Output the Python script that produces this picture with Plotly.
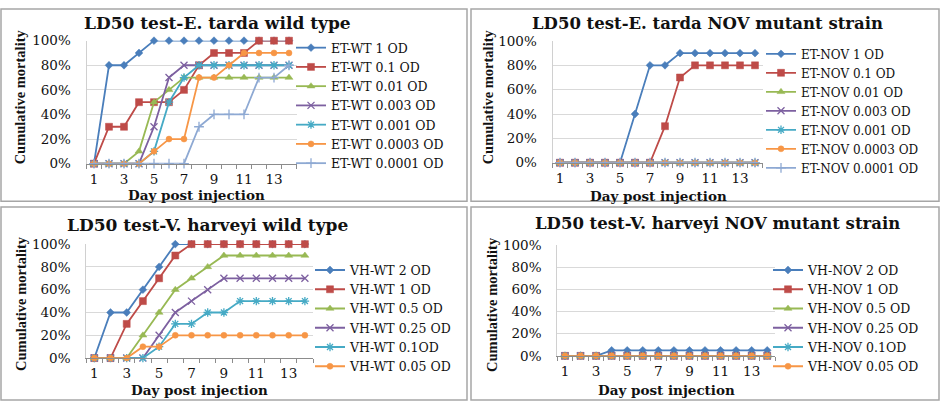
import plotly.graph_objects as go

# ---------------- data ----------------
days = list(range(1, 15))
day_ticks = [1, 3, 5, 7, 9, 11, 13]
pct_ticks = [0, 20, 40, 60, 80, 100]

# Panel 1: E. tarda wild type
et_wt_names = ["ET-WT 1 OD", "ET-WT 0.1 OD", "ET-WT 0.01 OD", "ET-WT 0.003 OD",
               "ET-WT 0.001 OD", "ET-WT 0.0003 OD", "ET-WT 0.0001 OD"]
et_wt_1 = [0, 80, 80, 90, 100, 100, 100, 100, 100, 100, 100, 100, 100, 100]
et_wt_01 = [0, 30, 30, 50, 50, 50, 60, 80, 90, 90, 90, 100, 100, 100]
et_wt_001 = [0, 0, 0, 10, 50, 60, 70, 70, 70, 70, 70, 70, 70, 70]
et_wt_0003 = [0, 0, 0, 0, 30, 70, 80, 80, 80, 80, 80, 80, 80, 80]
et_wt_0001 = [0, 0, 0, 0, 10, 50, 70, 80, 80, 80, 80, 80, 80, 80]
et_wt_00003 = [0, 0, 0, 0, 10, 20, 20, 70, 70, 80, 90, 90, 90, 90]
et_wt_00001 = [0, 0, 0, 0, 0, 0, 0, 30, 40, 40, 40, 70, 70, 80]

# Panel 2: E. tarda NOV mutant strain
et_nov_names = ["ET-NOV 1 OD", "ET-NOV 0.1 OD", "ET-NOV 0.01 OD", "ET-NOV 0.003 OD",
                "ET-NOV 0.001 OD", "ET-NOV 0.0003 OD", "ET-NOV 0.0001 OD"]
et_nov_1 = [0, 0, 0, 0, 0, 40, 80, 80, 90, 90, 90, 90, 90, 90]
et_nov_01 = [0, 0, 0, 0, 0, 0, 0, 30, 70, 80, 80, 80, 80, 80]
et_nov_001 = [0, 0, 0, 0, 0, 0, 0, 0, 0, 0, 0, 0, 0, 0]
et_nov_0003 = [0, 0, 0, 0, 0, 0, 0, 0, 0, 0, 0, 0, 0, 0]
et_nov_0001 = [0, 0, 0, 0, 0, 0, 0, 0, 0, 0, 0, 0, 0, 0]
et_nov_00003 = [0, 0, 0, 0, 0, 0, 0, 0, 0, 0, 0, 0, 0, 0]
et_nov_00001 = [0, 0, 0, 0, 0, 0, 0, 0, 0, 0, 0, 0, 0, 0]

# Panel 3: V. harveyi wild type
vh_wt_names = ["VH-WT 2 OD", "VH-WT 1 OD", "VH-WT 0.5 OD", "VH-WT 0.25 OD",
               "VH-WT 0.1OD", "VH-WT 0.05 OD"]
vh_wt_2 = [0, 40, 40, 60, 80, 100, 100, 100, 100, 100, 100, 100, 100, 100]
vh_wt_1 = [0, 0, 30, 50, 70, 90, 100, 100, 100, 100, 100, 100, 100, 100]
vh_wt_05 = [0, 0, 0, 20, 40, 60, 70, 80, 90, 90, 90, 90, 90, 90]
vh_wt_025 = [0, 0, 0, 0, 20, 40, 50, 60, 70, 70, 70, 70, 70, 70]
vh_wt_01 = [0, 0, 0, 0, 10, 30, 30, 40, 40, 50, 50, 50, 50, 50]
vh_wt_005 = [0, 0, 0, 10, 10, 20, 20, 20, 20, 20, 20, 20, 20, 20]

# Panel 4: V. harveyi NOV mutant strain
vh_nov_names = ["VH-NOV 2 OD", "VH-NOV 1 OD", "VH-NOV 0.5 OD", "VH-NOV 0.25 OD",
                "VH-NOV 0.1OD", "VH-NOV 0.05 OD"]
vh_nov_2 = [0, 0, 0, 5, 5, 5, 5, 5, 5, 5, 5, 5, 5, 5]
vh_nov_1 = [0, 0, 0, 0, 0, 0, 0, 0, 0, 0, 0, 0, 0, 0]
vh_nov_05 = [0, 0, 0, 0, 0, 0, 0, 0, 0, 0, 0, 0, 0, 0]
vh_nov_025 = [0, 0, 0, 0, 0, 0, 0, 0, 0, 0, 0, 0, 0, 0]
vh_nov_01 = [0, 0, 0, 0, 0, 0, 0, 0, 0, 0, 0, 0, 0, 0]
vh_nov_005 = [0, 0, 0, 0, 0, 0, 0, 0, 0, 0, 0, 0, 0, 0]

titles = ["LD50 test-E. tarda wild type", "LD50 test-E. tarda NOV mutant strain",
          "LD50 test-V. harveyi wild type", "LD50 test-V. harveyi NOV mutant strain"]
y_title = "Cumulative mortality"
x_title = "Day post injection"

# ---------------- styles ----------------
colors = ["#4A7EBB", "#BE4B48", "#98B954", "#7D60A0", "#46AAC5", "#F79646", "#8EA9D3"]
symbols = ["diamond", "square", "triangle-up", "x-thin-open", "asterisk-open", "circle", "cross-thin-open"]
msizes = [6, 7, 7, 7, 7, 6, 7]

W, H = 941, 410
SERIF = "DejaVu Serif"
TNR = "Liberation Serif"


def fx(p):
    return p / W


def fy(p):
    return 1 - p / H


# pixel layout of each panel: plot x-range (left,right), y (top=100%, bottom=0%)
panels = [
    dict(x0=86.5, x1=296.5, yt=34.0, yb=162.0, leg_x=291, leg_y=101.5, leg_fs=12.5,
         title_x=217, title_y=16, title_fs=17, yt_x=20, yt_y=93, xt_x=196, xt_y=195,
         box=(1, 1, 467, 201)),
    dict(x0=552.5, x1=762.5, yt=34.3, yb=161.0, leg_x=761, leg_y=107, leg_fs=12,
         title_x=707, title_y=16, title_fs=16.5, yt_x=488, yt_y=93, xt_x=658, xt_y=196,
         box=(471, 1, 939, 201)),
    dict(x0=86.2, x1=313.0, yt=245.7, yb=364.3, leg_x=310, leg_y=323, leg_fs=12.5,
         title_x=207, title_y=226, title_fs=17, yt_x=21, yt_y=308, xt_x=199, xt_y=397,
         box=(1, 207, 467, 408)),
    dict(x0=557.2, x1=775.0, yt=246.7, yb=362.0, leg_x=768, leg_y=323, leg_fs=12.5,
         title_x=717, title_y=224, title_fs=16.5, yt_x=492, yt_y=309, xt_x=666, xt_y=397,
         box=(471, 207, 939, 408)),
]

series = [
    (et_wt_names, [et_wt_1, et_wt_01, et_wt_001, et_wt_0003, et_wt_0001, et_wt_00003, et_wt_00001]),
    (et_nov_names, [et_nov_1, et_nov_01, et_nov_001, et_nov_0003, et_nov_0001, et_nov_00003, et_nov_00001]),
    (vh_wt_names, [vh_wt_2, vh_wt_1, vh_wt_05, vh_wt_025, vh_wt_01, vh_wt_005]),
    (vh_nov_names, [vh_nov_2, vh_nov_1, vh_nov_05, vh_nov_025, vh_nov_01, vh_nov_005]),
]

fig = go.Figure()
layout = dict(width=W, height=H, margin=dict(l=0, r=0, t=0, b=0),
              paper_bgcolor="white", plot_bgcolor="white", showlegend=True)
annotations = []
shapes = []

for i, (p, (names, vals)) in enumerate(zip(panels, series)):
    k = "" if i == 0 else str(i + 1)
    xa, ya = "x" + k, "y" + k
    leg = "legend" + k
    for j, (nm, v) in enumerate(zip(names, vals)):
        open_sym = symbols[j].endswith("open")
        fig.add_trace(go.Scatter(
            x=days, y=v, name=nm, mode="lines+markers", xaxis=xa, yaxis=ya, legend=leg,
            cliponaxis=False,
            line=dict(color=colors[j], width=1.8),
            marker=dict(symbol=symbols[j], size=msizes[j], color=colors[j],
                        line=dict(color=colors[j], width=1.3 if open_sym else 0.5)),
        ))
    layout["xaxis" + k] = dict(
        domain=[fx(p["x0"]), fx(p["x1"])], anchor=ya, range=[0.5, 14.5],
        tickmode="array", tickvals=day_ticks, ticktext=[str(d) for d in day_ticks],
        ticks="", showgrid=False, zeroline=False, showline=True, linecolor="#8C8C8C",
        linewidth=1, tickfont=dict(family=SERIF, size=13.5, color="#111"),
        ticklabelstandoff=3,
        minor=dict(ticks="outside", ticklen=4, tickcolor="#8C8C8C", tick0=0.5, dtick=1,
                   showgrid=False),
        fixedrange=True,
    )
    layout["yaxis" + k] = dict(
        domain=[fy(p["yb"]), fy(p["yt"])], anchor=xa, range=[0, 100],
        tickmode="array", tickvals=pct_ticks, ticktext=[f"{v}%" for v in pct_ticks],
        showgrid=True, gridcolor="#D9D9D9", gridwidth=1, zeroline=False,
        showline=True, linecolor="#D0D0D0", ticks="",
        tickfont=dict(family=SERIF, size=13.5, color="#111"), ticklabelstandoff=12,
        fixedrange=True,
    )
    layout[leg] = dict(
        x=fx(p["leg_x"]), y=fy(p["leg_y"]), xanchor="left", yanchor="middle",
        xref="paper", yref="paper", bgcolor="rgba(0,0,0,0)", borderwidth=0,
        font=dict(family=SERIF, size=p["leg_fs"], color="#111"),
        itemwidth=30, tracegroupgap=0,
    )
    annotations.append(dict(text="<b>" + titles[i] + "</b>", x=fx(p["title_x"]), y=fy(p["title_y"]),
                            xref="paper", yref="paper", showarrow=False, xanchor="center",
                            yanchor="middle", font=dict(family=SERIF, size=p["title_fs"], color="#111")))
    annotations.append(dict(text="<b>" + y_title + "</b>", x=fx(p["yt_x"]), y=fy(p["yt_y"]),
                            xref="paper", yref="paper", showarrow=False, textangle=-90,
                            xanchor="center", yanchor="middle",
                            font=dict(family=TNR, size=14.5, color="#111")))
    annotations.append(dict(text="<b>" + x_title + "</b>", x=fx(p["xt_x"]), y=fy(p["xt_y"]),
                            xref="paper", yref="paper", showarrow=False,
                            xanchor="center", yanchor="middle",
                            font=dict(family=SERIF, size=13.5, color="#111")))
    bx0, by0, bx1, by1 = p["box"]
    shapes.append(dict(type="rect", xref="paper", yref="paper",
                       x0=fx(bx0), x1=fx(bx1), y0=fy(by1), y1=fy(by0),
                       line=dict(color="#A6A6A6", width=1.5), fillcolor="rgba(0,0,0,0)"))

layout["annotations"] = annotations
layout["shapes"] = shapes
fig.update_layout(**layout)
fig.write_html("out.html", config={"displayModeBar": False},
               post_script="document.body.style.margin='0';document.body.style.padding='0';"
                           "document.body.style.overflow='hidden';")
